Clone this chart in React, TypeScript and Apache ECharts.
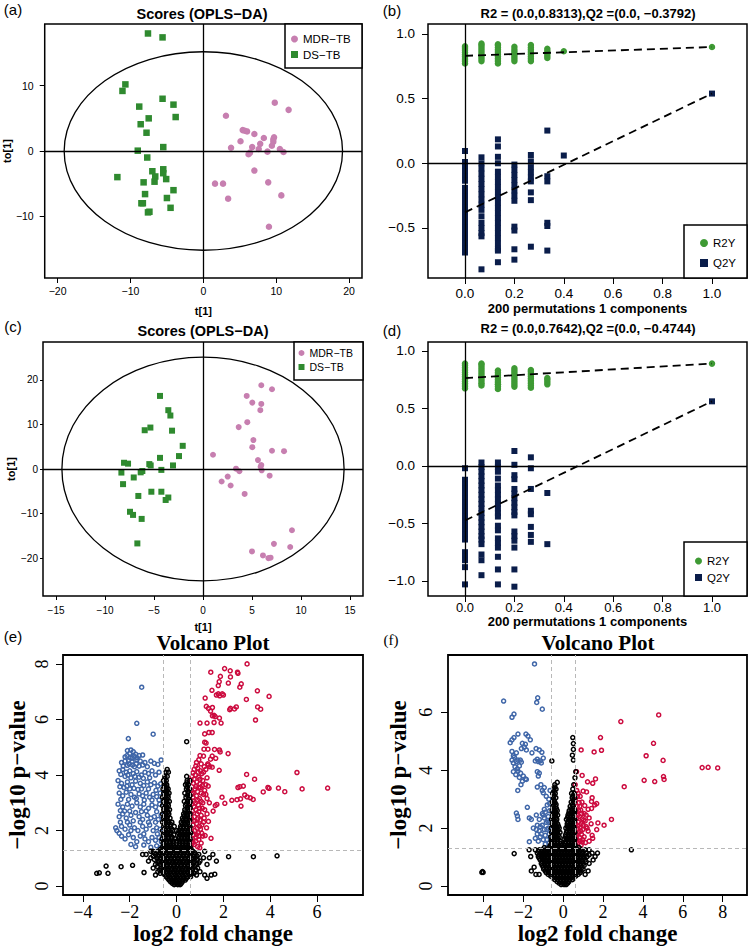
import React, { useEffect, useRef } from 'react';
import * as echarts from 'echarts';

const SANS = 'Liberation Sans, Arial, sans-serif';
const SERIF = 'Liberation Serif, Times New Roman, serif';
const M = '\u2212';

const PINK = '#c77fb0';
const DGREEN = '#2f8a2f';
const LGREEN = '#3e9a34';
const NAVY = '#0a1d4a';
const VBLUE = '#3f66a8';
const VRED = '#cc0a3e';

// ---------- Panel (a): OPLS-DA scores ----------
const aMDR = [[9.8,7.4],[11.7,6.3],[3.1,5.4],[5.4,3.2],[5.7,3.1],[6.0,3.0],[7.0,2.6],[8.3,2.0],[9.6,1.8],[9.7,2.1],[9.6,1.4],[7.8,1.1],[5.1,1.5],[6.7,0.6],[9.4,0.8],[3.8,0.5],[7.6,0.3],[10.5,0.3],[11.0,-0.15],[8.8,-0.1],[6.4,-0.25],[6.2,-0.5],[7.0,-3.0],[1.6,-5.0],[2.7,-5.0],[8.9,-4.8],[3.4,-7.3],[10.7,-6.8],[9.0,-11.6]];
const aDS = [[-7.6,18.0],[-5.6,17.4],[-10.7,10.2],[-11.1,9.2],[-5.6,8.0],[-4.1,7.1],[-8.8,6.8],[-3.8,5.2],[-7.5,5.0],[-8.6,4.1],[-7.8,2.8],[-5.5,0.6],[-9.0,0.05],[-7.7,-1.0],[-11.8,-4.0],[-7.0,-3.1],[-6.6,-3.9],[-6.7,-4.7],[-5.5,-2.8],[-5.5,-3.4],[-5.1,-4.3],[-8.2,-4.8],[-4.1,-6.0],[-8.0,-6.6],[-5.0,-7.2],[-8.5,-8.0],[-8.3,-8.0],[-4.5,-8.7],[-7.6,-9.4],[-7.4,-9.3]];
const aEllipse = [[0, 0, 19.1, 15.2]];

// ---------- Panel (c): OPLS-DA scores ----------
const cMDR = [[5.95,18.8],[7.04,17.9],[4.46,16.4],[5.03,14.9],[5.95,14.6],[5.85,13.2],[4.52,10.5],[3.64,9.4],[5.14,6.5],[5.03,4.9],[7.04,4.1],[8.27,4.0],[1.02,3.2],[5.61,2.0],[5.95,0.9],[5.88,0.5],[5.99,-0.3],[3.37,0.07],[3.71,-0.5],[6.8,-1.5],[2.52,-1.7],[1.9,-2.8],[2.82,-3.7],[4.25,-5.6],[9.08,-13.75],[7.24,-16.8],[8.9,-17.5],[5.0,-18.5],[6.12,-19.4],[6.67,-20.0],[6.9,-19.9]];
const cDS = [[-4.39,16.4],[-3.54,13.2],[-3.33,12.0],[-3.16,8.6],[-5.95,8.7],[-5.37,9.3],[-2.07,5.2],[-2.45,2.9],[-4.39,2.5],[-3.06,0.8],[-8.06,1.4],[-7.65,1.2],[-5.48,1.1],[-5.34,0.8],[-8.33,-0.8],[-6.19,-0.45],[-6.36,-0.75],[-4.25,-0.2],[-7.07,-1.9],[-8.16,-3.4],[-5.27,-5.1],[-4.25,-5.1],[-6.6,-6.05],[-3.54,-6.4],[-3.81,-6.95],[-7.45,-9.6],[-7.14,-10.3],[-6.26,-11.2],[-6.7,-16.7]];
const cEllipse = [[0, 0, 14.4, 25.1]];

// ---------- Panel (b): permutation test ----------
const bR2: [number, number[]][] = [
  [0, [0.772,0.79,0.806,0.823,0.84,0.858,0.875,0.892,0.905]],
  [0.0667, [0.79,0.808,0.826,0.843,0.86,0.878,0.895,0.912,0.925]],
  [0.1333, [0.772,0.79,0.808,0.826,0.843,0.86,0.878,0.895,0.912,0.92]],
  [0.2, [0.79,0.808,0.826,0.843,0.86,0.878,0.9]],
  [0.2667, [0.79,0.808,0.826,0.843,0.86,0.878,0.895,0.915]],
  [0.3333, [0.815,0.832,0.85,0.868,0.885]],
  [0.4, [0.866]],
  [1.0, [0.899]],
];
const bQ2: [number, number[]][] = [
  [0, [0.095,0.01,-0.025,-0.06,-0.1,-0.135,-0.19,-0.225,-0.26,-0.3,-0.34,-0.38,-0.42,-0.46,-0.5,-0.54,-0.58,-0.62,-0.66,-0.69]],
  [0.0667, [0.046,0.0,-0.04,-0.08,-0.12,-0.16,-0.2,-0.24,-0.28,-0.32,-0.36,-0.41,-0.46,-0.5,-0.54,-0.565,-0.82]],
  [0.1333, [0.185,0.13,0.05,0.0,-0.065,-0.105,-0.145,-0.185,-0.225,-0.265,-0.305,-0.345,-0.385,-0.425,-0.46,-0.5,-0.54,-0.58,-0.62,-0.66,-0.675,-0.765]],
  [0.2, [-0.01,-0.05,-0.09,-0.13,-0.17,-0.21,-0.25,-0.29,-0.49,-0.52,-0.665,-0.745]],
  [0.2667, [0.064,0.015,-0.03,-0.07,-0.11,-0.14,-0.225,-0.285,-0.645]],
  [0.3333, [0.253,-0.1,-0.14,-0.46,-0.485,-0.675]],
  [0.4, [0.06]],
  [1.0, [0.539]],
];
const bFitR2 = [[0, 0.8313], [1, 0.899]];
const bFitQ2 = [[0, -0.3792], [1, 0.539]];

// ---------- Panel (d): permutation test ----------
const dR2: [number, number[]][] = [
  [0, [0.675,0.695,0.715,0.735,0.755,0.775,0.795,0.815,0.835,0.855,0.875,0.89]],
  [0.0667, [0.7,0.72,0.74,0.76,0.78,0.8,0.82,0.84,0.86,0.88,0.89]],
  [0.1333, [0.67,0.69,0.71,0.73,0.75,0.77,0.79,0.81,0.83]],
  [0.2, [0.69,0.71,0.73,0.75,0.77,0.79,0.81,0.83,0.85]],
  [0.2667, [0.68,0.7,0.72,0.74,0.76,0.78,0.8,0.82,0.835]],
  [0.3333, [0.71,0.73,0.75,0.765]],
  [1.0, [0.89]],
];
const dQ2: [number, number[]][] = [
  [0, [-0.02,-0.12,-0.16,-0.2,-0.24,-0.28,-0.32,-0.36,-0.4,-0.44,-0.48,-0.52,-0.56,-0.6,-0.64,-0.75,-0.79,-0.82,-0.88,-1.03]],
  [0.0667, [0.03,-0.01,-0.05,-0.09,-0.13,-0.17,-0.21,-0.25,-0.29,-0.33,-0.37,-0.41,-0.45,-0.49,-0.53,-0.57,-0.61,-0.64,-0.68,-0.77,-0.82,-0.95]],
  [0.1333, [0.03,-0.01,-0.05,-0.11,-0.17,-0.21,-0.25,-0.29,-0.33,-0.37,-0.41,-0.44,-0.52,-0.56,-0.63,-0.67,-0.71,-0.79,-0.9,-1.03]],
  [0.2, [0.13,0.01,-0.08,-0.115,-0.2,-0.24,-0.28,-0.32,-0.36,-0.4,-0.43,-0.57,-0.61,-0.65,-0.71,-0.9,-1.05]],
  [0.2667, [0.075,-0.02,-0.2,-0.39,-0.42,-0.53,-0.6,-0.66]],
  [0.3333, [-0.235,-0.68]],
  [1.0, [0.562]],
];
const dFitR2 = [[0, 0.7642], [1, 0.89]];
const dFitQ2 = [[0, -0.4744], [1, 0.562]];

// ---------- Panel (e): volcano ----------
const eBlue = [
  [-1.49,7.16],[-1.70,5.86],[-1.0,5.47],[-2.06,5.31],[-0.66,4.54],
  [-2.1,4.88],[-1.95,4.9],[-1.85,4.84],[-2.0,4.78],[-1.75,4.75],[-1.6,4.7],[-1.45,4.72],[-2.2,4.65],[-1.9,4.62],
  [-2.35,4.45],[-2.2,4.5],[-2.05,4.52],[-1.9,4.47],[-1.7,4.55],[-1.55,4.5],[-1.35,4.45],[-1.1,4.5],[-0.95,4.42],[-0.8,4.38],[-2.1,4.35],[-1.8,4.3],[-1.6,4.32],[-1.25,4.3],
  [-2.45,4.15],[-2.3,4.2],[-2.15,4.1],[-2.0,4.15],[-1.85,4.05],[-1.7,4.12],[-1.5,4.0],[-1.35,4.1],[-1.2,4.05],[-1.05,4.15],[-0.9,4.0],[-0.75,4.1],[-2.2,3.95],[-1.95,3.9],[-1.6,3.92],
  [-2.5,3.8],[-2.35,3.7],[-2.1,3.75],[-1.9,3.65],[-1.75,3.78],[-1.55,3.7],[-1.4,3.62],[-1.25,3.75],[-1.1,3.65],[-0.95,3.72],[-0.8,3.6],[-0.68,3.68],[-2.25,3.55],[-2.0,3.5],[-1.65,3.48],
  [-2.45,3.35],[-2.3,3.25],[-2.15,3.38],[-1.95,3.3],[-1.8,3.2],[-1.6,3.32],[-1.45,3.25],[-1.3,3.35],[-1.15,3.2],[-1.0,3.3],[-0.85,3.22],[-0.7,3.35],
  [-2.5,2.95],[-2.3,2.85],[-2.1,2.95],[-1.9,2.88],[-1.7,3.0],[-1.55,2.85],[-1.4,2.95],[-1.2,2.8],[-1.05,2.92],[-0.9,2.85],[-0.72,2.95],[-2.0,2.7],[-1.75,2.65],
  [-2.45,2.5],[-2.3,2.6],[-2.15,2.45],[-1.95,2.55],[-1.6,2.5],[-1.45,2.4],[-1.25,2.55],[-1.1,2.45],[-0.95,2.5],[-0.78,2.4],[-0.66,2.55],[-2.4,2.3],
  [-2.6,2.1],[-2.55,2.0],[-2.35,2.15],[-2.2,2.05],[-2.0,2.2],[-1.8,2.1],[-1.65,2.0],[-1.45,2.15],[-1.3,2.05],[-1.15,2.2],[-1.0,2.0],[-0.85,2.1],[-0.7,2.05],
  [-2.35,1.8],[-2.2,1.7],[-2.05,1.85],[-1.85,1.75],[-1.7,1.6],[-1.55,1.8],[-1.35,1.7],[-1.2,1.6],[-1.05,1.75],[-0.9,1.65],[-0.75,1.75],[-0.65,1.6],
  [-1.95,1.5],[-1.75,1.42],[-1.4,1.48],[-1.1,1.4],[-0.85,1.45],[-0.7,1.38],
  [-2.12,4.7],[-1.98,4.62],[-1.82,4.68],[-1.68,4.62],[-2.28,4.32],[-2.02,4.4],[-1.88,4.36],[-1.72,4.4],[-1.45,4.36],[-2.38,4.02],[-2.08,4.0],[-1.78,3.95],[-1.42,3.88],[-1.15,3.9],[-2.42,3.58],[-2.12,3.6],[-1.82,3.52],[-1.5,3.5],[-1.2,3.5],[-0.88,3.45],[-2.38,3.12],[-2.05,3.12],[-1.72,3.15],[-1.38,3.1],[-1.05,3.1],[-0.75,3.1],[-2.4,2.72],[-2.22,2.7],[-1.5,2.68],[-1.3,2.7],[-0.85,2.68],[-2.1,2.3],[-1.85,2.35],[-1.55,2.3],[-1.2,2.3],[-0.9,2.3],[-2.45,1.9],[-1.95,2.0],[-1.4,1.88],[-0.82,1.88],
];
const eRed = [
  [0.62,1.45],[0.75,1.5],[0.9,1.42],[1.05,1.55],[0.68,1.7],[0.82,1.75],[0.95,1.68],[1.12,1.8],[0.65,1.95],[0.78,2.0],[0.92,1.92],[1.02,2.05],[0.7,2.2],[0.85,2.25],[0.98,2.15],[1.15,2.3],[0.63,2.45],[0.76,2.5],[0.9,2.42],[1.05,2.55],[0.68,2.7],[0.82,2.75],[0.95,2.68],[1.1,2.8],[0.65,2.95],[0.8,3.0],[0.93,2.92],[1.05,3.05],[0.7,3.2],[0.85,3.25],[0.98,3.15],[1.15,3.3],[0.63,3.45],[0.78,3.5],[0.9,3.4],[1.02,3.55],[1.2,3.45],[0.72,3.7],[0.86,3.75],[1.0,3.68],[1.12,3.8],[0.66,3.95],[0.8,4.0],[0.95,3.92],[1.08,4.05],[0.75,4.2],[0.9,4.25],[1.02,4.15],[1.18,4.3],[0.85,4.45],
  [1.3,3.9],[1.35,3.6],[1.25,3.3],[1.4,3.0],[1.3,2.6],[1.28,2.1],[1.36,2.33],[1.22,1.82],[1.47,1.72],[0.99,1.38],[1.56,2.7],[1.65,2.9],[1.72,2.94],[1.94,3.2],[2.06,2.98],[1.35,4.36],[1.45,4.57],
  [3.01,8.0],[2.05,7.83],[2.29,7.75],[2.6,7.7],[2.62,7.66],[1.46,7.7],[1.87,7.55],[2.3,7.53],[1.82,7.36],[2.76,7.28],[2.21,7.31],[1.78,7.22],[2.7,7.16],[1.51,7.05],[3.45,7.03],[1.7,6.88],[1.78,6.92],[1.95,6.92],[1.84,6.85],[2.0,6.88],[3.95,6.83],[2.98,6.72],[1.22,6.77],
  [1.27,6.47],[1.36,6.4],[1.53,6.43],[1.45,6.3],[1.6,6.15],[1.65,6.1],[1.53,6.13],[1.83,6.05],[2.3,6.4],[2.47,6.38],[2.55,6.45],[2.27,6.35],[3.46,6.45],[3.59,6.37],[3.37,5.98],
  [1.0,5.87],[1.3,5.87],[1.6,5.89],[1.9,5.87],[1.2,5.48],[1.38,5.53],[1.52,5.53],[1.2,5.18],[1.26,5.15],[1.17,4.93],[1.34,4.93],[1.62,4.92],[1.83,4.9],[1.86,4.83],[2.2,4.77],[1.0,4.7],[1.15,4.68],[1.52,4.68],[1.67,4.6],[1.33,4.4],[1.42,4.3],[1.52,4.28],[1.82,4.17],
  [5.14,4.09],[2.99,4.02],[3.33,3.85],[2.7,3.58],[2.85,3.6],[2.62,3.55],[3.9,3.55],[3.95,3.52],[4.35,3.53],[4.62,3.4],[5.36,3.5],[6.45,3.53],[3.7,3.39],
  [2.36,3.09],[2.58,3.11],[2.73,3.14],[2.91,3.28],[3.01,3.21],[3.15,3.18],[3.27,3.12],[2.75,2.88],
  [0.7,1.6],[0.85,1.85],[0.72,2.35],[0.88,2.6],[0.74,2.85],[0.9,3.1],[0.7,3.35],[0.95,3.55],[0.75,3.85],[0.92,4.1],
  [0.68,1.55],[0.82,1.62],[0.95,1.8],[0.72,1.85],[1.08,1.9],[0.62,2.08],[0.88,2.08],[1.08,2.2],[0.78,2.35],[1.0,2.38],[0.62,2.6],[0.98,2.8],[0.72,3.05],[1.12,3.0],[0.65,3.3],[1.05,3.35],[0.82,3.58],[1.1,3.62],[0.62,3.8],[1.0,3.85],[0.7,4.08],[1.15,4.1],[0.82,4.32],[1.05,4.4],[0.95,4.55],[1.25,4.2],[1.25,3.65],[1.3,3.15],[1.2,2.75],[1.18,2.45],
];
const eBlackCore: [number, number[]][] = [
  [0.05, [-0.1,0.05,0.15]],
  [0.1, [-0.18,-0.05,0.08,0.2]],
  [0.15, [-0.25,-0.12,0.0,0.12,0.24]],
  [0.22, [-0.32,-0.18,-0.03,0.11,0.25,0.37]],
  [0.28, [-0.38,-0.25,-0.1,0.05,0.18,0.32,0.42,1.3]],
  [0.34, [-0.45,-0.3,-0.15,0.0,0.14,0.28,0.45,0.6]],
  [0.4, [-0.9,-0.5,-0.35,-0.2,-0.05,0.1,0.25,0.4,0.55,0.85,1.2,1.48]],
  [0.46, [-0.7,-0.55,-0.4,-0.25,-0.1,0.05,0.2,0.35,0.5,0.65,0.75]],
  [0.52, [-0.8,-0.6,-0.45,-0.3,-0.15,0.0,0.15,0.3,0.45,0.6,1.0]],
  [0.58, [-0.72,-0.52,-0.38,-0.22,-0.08,0.08,0.22,0.38,0.52,0.68,0.82]],
  [0.65, [-1.0,-0.65,-0.5,-0.35,-0.2,-0.05,0.1,0.25,0.4,0.55,0.7,0.9]],
  [0.71, [-0.82,-0.58,-0.42,-0.28,-0.12,0.02,0.18,0.32,0.48,0.62,0.78]],
  [0.78, [-0.9,-0.7,-0.55,-0.4,-0.25,-0.1,0.05,0.2,0.35,0.5,0.65,0.85,1.3]],
  [0.84, [-0.8,-0.62,-0.48,-0.32,-0.18,-0.02,0.12,0.28,0.42,0.58,0.72,0.95]],
  [0.9, [-1.2,-0.75,-0.6,-0.45,-0.3,-0.15,0.0,0.15,0.3,0.45,0.6,0.75,1.0,1.7]],
  [0.96, [-0.95,-0.68,-0.52,-0.38,-0.22,-0.08,0.08,0.22,0.38,0.52,0.68,0.88]],
  [1.02, [-1.1,-0.85,-0.7,-0.55,-0.4,-0.25,-0.1,0.05,0.2,0.35,0.5,0.65,0.8,1.15,1.4]],
  [1.08, [-1.0,-0.78,-0.62,-0.48,-0.32,-0.18,-0.02,0.12,0.28,0.42,0.58,0.72,0.88]],
  [1.14, [-1.45,-1.3,-0.9,-0.75,-0.6,-0.45,-0.3,-0.15,0.0,0.15,0.3,0.45,0.6,0.75,0.95,1.55]],
  [1.2, [-0.95,-0.72,-0.58,-0.42,-0.28,-0.12,0.02,0.18,0.32,0.48,0.62,0.78]],
  [1.25, [-1.1,-1.0,-0.8,-0.65,-0.5,-0.35,-0.2,-0.05,0.1,0.25,0.4,0.55,0.7,1.2]],
];
const eBlackArms: [number, number[]][] = [
  [1.33, [-0.68,-0.54,-0.4,-0.26,-0.12,0.0,0.12,0.26,0.4,0.52,0.62]],
  [1.4, [-0.6,-0.47,-0.33,-0.2,-0.05,0.05,0.2,0.33,0.47,0.58]],
  [1.47, [-0.52,-0.4,-0.26,-0.12,0.12,0.26,0.4,0.52]],
  [1.55, [-0.58,-0.45,-0.3,-0.15,0.12,0.26,0.4,0.54]],
  [1.62, [-0.55,-0.42,-0.28,-0.12,0.02,0.14,0.27,0.4,0.53]],
  [1.7, [-0.62,-0.5,-0.36,-0.22,-0.05,0.08,0.2,0.33,0.47,0.58]],
  [1.77, [-0.5,-0.36,-0.2,0.1,0.22,0.36,0.5]],
  [1.85, [-0.57,-0.43,-0.28,-0.12,0.15,0.28,0.42,0.55]],
  [1.92, [-0.52,-0.38,-0.24,0.08,0.22,0.35,0.48,0.6]],
  [2.0, [-0.6,-0.46,-0.32,-0.18,0.0,0.1,0.22,0.36,0.5]],
  [2.07, [-0.5,-0.36,-0.22,0.16,0.28,0.42,0.55]],
  [2.15, [-0.55,-0.41,-0.27,-0.1,0.17,0.3,0.44,0.57]],
  [2.22, [-0.52,-0.38,-0.25,0.24,0.38,0.52]],
  [2.3, [-0.6,-0.47,-0.33,-0.2,0.2,0.33,0.47]],
  [2.37, [-0.52,-0.38,0.27,0.4,0.56]],
  [2.45, [-0.56,-0.42,-0.28,0.25,0.4,0.54]],
  [2.52, [-0.52,-0.38,0.32,0.47]],
  [2.6, [-0.6,-0.46,-0.33,0.3,0.44,0.57]],
  [2.67, [-0.5,-0.37,0.36,0.52]],
  [2.75, [-0.55,-0.42,-0.3,0.35,0.5]],
  [2.82, [-0.52,-0.4,0.45,0.58]],
  [2.9, [-0.6,-0.47,-0.35,0.38,0.53]],
  [2.97, [-0.5,-0.38,0.42,0.55]],
  [3.05, [-0.56,-0.43,-0.31,0.33,0.47,0.58]],
  [3.12, [-0.52,-0.4,0.52]],
  [3.2, [-0.6,-0.48,-0.36,0.4,0.53]],
  [3.27, [-0.5,-0.38,0.46,0.57]],
  [3.35, [-0.55,-0.43,-0.32,0.35,0.5]],
  [3.42, [-0.5,-0.4,0.48]],
  [3.5, [-0.58,-0.47,-0.36,0.42,0.55]],
  [3.57, [-0.52,-0.42,0.46]],
  [3.65, [-0.53,-0.42,0.38,0.5]],
  [3.72, [-0.48,0.44]],
  [3.8, [-0.56,-0.44,0.45,0.56]],
  [3.87, [-0.5]],
  [3.95, [-0.5,-0.4,0.43]],
  [4.1, [-0.45,-0.35]],
  [4.2, [-0.4]],
];
const eBlackOut = [[-3.41,0.46],[-3.3,0.48],[-3.01,0.72],[-2.93,0.46],[-2.37,0.7],[-1.88,0.75],[-1.39,0.49],[2.22,1.06],[3.28,1.06],[4.29,1.09],[1.63,0.43],[0.43,5.2]];

// ---------- Panel (f): volcano ----------
const fBlue = [
  [-1.44,7.67],[-2.99,6.39],[-1.28,6.5],[-1.33,6.34],[-1.05,6.11],[-2.47,5.94],[-2.57,5.83],
  [-2.66,4.95],[-2.57,5.05],[-2.47,5.13],[-2.27,5.25],[-1.87,5.25],[-1.77,5.18],[-1.65,5.05],[-2.05,4.93],
  [-2.1,4.75],[-1.95,4.8],[-1.85,4.7],[-1.9,4.9],[-1.57,4.6],[-1.36,4.75],[-1.2,4.7],[-1.07,4.62],
  [-2.57,4.65],[-2.5,4.5],[-2.57,4.35],[-2.5,4.25],[-2.35,4.3],[-2.42,4.12],[-2.3,4.05],[-2.27,4.35],[-2.15,4.35],[-2.1,4.28],
  [-2.5,3.95],[-2.27,3.97],[-2.14,3.9],[-2.2,3.75],[-2.0,3.8],[-1.9,3.7],[-1.85,3.68],[-2.12,3.5],[-2.28,3.3],
  [-1.3,4.38],[-1.15,4.32],[-1.0,4.42],[-1.25,4.3],[-1.4,4.32],[-1.1,4.25],[-1.3,3.95],[-1.2,3.9],[-1.25,3.8],
  [-1.3,3.42],[-1.12,3.5],[-1.05,3.3],[-0.95,3.4],[-1.0,3.22],
  [-1.8,2.72],[-1.7,2.35],[-1.6,2.3],[-2.35,2.52],[-2.3,2.42],[-2.27,2.3],[-1.7,1.53],
  [-1.5,2.0],[-1.35,1.95],[-1.3,1.8],[-1.15,1.7],[-1.0,1.6],[-1.1,1.8],[-0.95,1.95],[-1.2,2.3],[-1.05,2.5],[-0.95,2.65],[-1.0,2.45],[-0.85,2.2],[-0.75,2.0],[-0.7,1.8],[-0.8,1.6],[-0.9,1.45],[-0.7,1.5],[-1.25,1.55],[-1.4,1.65],[-0.75,2.4],[-0.68,2.6],[-0.8,2.8],[-0.72,3.0],[-0.85,3.1],[-0.66,3.3],[-0.78,2.25],[-1.3,2.1],[-0.9,1.75],[-1.15,2.05],[-0.65,1.65],
  [-2.45,4.45],[-2.35,4.6],[-2.2,4.15],[-2.38,3.85],[-2.05,3.62],[-1.05,2.1],[-0.9,2.55],[-1.2,1.9],[-0.82,1.95],[-0.95,2.35],[-1.35,2.45],[-0.72,2.2],[-0.68,2.85],
];
const fRed = [
  [4.79,5.91],[2.89,5.68],[1.87,5.13],[0.9,4.7],[1.55,4.63],[1.92,4.69],[4.53,4.93],[4.16,4.5],[5.01,4.34],[6.97,4.09],[7.27,4.1],[7.75,4.08],[4.06,3.65],[4.59,3.61],[5.03,3.78],[5.06,3.68],[3.06,3.43],
  [0.67,3.95],[0.95,3.82],[1.22,3.6],[1.48,3.55],[1.62,3.7],[0.6,3.5],[0.75,3.2],[1.0,3.28],[1.17,3.25],
  [1.45,3.05],[1.42,2.92],[1.58,2.8],[1.68,2.85],[0.94,2.9],[1.08,2.78],[1.25,2.65],[1.42,2.68],[0.83,2.75],
  [2.42,2.3],[2.05,2.1],[1.74,2.18],[1.68,1.95],[1.45,1.75],[1.48,1.65],[1.25,1.9],[1.0,2.1],[1.4,2.15],
  [0.62,1.45],[0.75,1.5],[0.9,1.42],[0.68,1.62],[0.82,1.68],[0.98,1.6],[0.65,1.8],[0.78,1.85],[0.92,1.78],[1.05,1.7],[0.7,2.0],[0.85,2.02],[0.98,1.95],[0.63,2.15],[0.76,2.2],[0.9,2.15],[1.1,2.25],[0.68,2.35],[0.82,2.4],[0.95,2.32],[0.65,2.55],[0.78,2.6],[0.92,2.5],[1.15,2.45],[0.7,2.75],[0.62,2.95],[0.72,3.1],[1.2,2.0],[1.3,1.55],[1.12,1.5],[0.85,1.55],
  [0.7,1.75],[0.88,1.9],[0.75,2.08],[1.02,2.28],[0.72,2.45],[0.88,2.62],[1.05,2.5],[0.8,2.88],[0.68,3.3],[0.85,3.1],[1.3,2.35],[1.15,2.05],[0.95,1.52],[0.62,1.65],
];
const fBlackCore: [number, number[]][] = [
  [0.05, [-0.1,0.05,0.15]],
  [0.1, [-0.2,-0.05,0.1,0.22]],
  [0.15, [-0.3,-0.15,0.0,0.15,0.28]],
  [0.22, [-0.42,-0.28,-0.12,0.02,0.18,0.32,0.46]],
  [0.28, [-0.5,-0.35,-0.2,-0.05,0.1,0.25,0.4,0.52]],
  [0.34, [-0.62,-0.45,-0.28,-0.12,0.02,0.18,0.32,0.48,0.62]],
  [0.4, [-1.37,-1.21,-0.75,-0.6,-0.45,-0.3,-0.15,0.0,0.15,0.3,0.45,0.6,0.75,1.1]],
  [0.46, [-0.85,-0.68,-0.52,-0.38,-0.22,-0.08,0.08,0.22,0.38,0.52,0.68,0.85]],
  [0.52, [-1.6,-0.9,-0.75,-0.6,-0.45,-0.3,-0.15,0.0,0.15,0.3,0.45,0.6,0.75,0.9,1.25]],
  [0.58, [-0.98,-0.82,-0.68,-0.52,-0.38,-0.22,-0.08,0.08,0.22,0.38,0.52,0.68,0.82,1.0]],
  [0.65, [-1.46,-1.0,-0.85,-0.7,-0.55,-0.4,-0.25,-0.1,0.05,0.2,0.35,0.5,0.65,0.8,0.95]],
  [0.71, [-1.05,-0.92,-0.78,-0.62,-0.48,-0.32,-0.18,-0.02,0.12,0.28,0.42,0.58,0.72,0.88,1.05]],
  [0.78, [-1.1,-0.95,-0.8,-0.65,-0.5,-0.35,-0.2,-0.05,0.1,0.25,0.4,0.55,0.7,0.85,1.0,1.3]],
  [0.84, [-1.05,-0.88,-0.72,-0.58,-0.42,-0.28,-0.12,0.02,0.18,0.32,0.48,0.62,0.78,0.92,1.15]],
  [0.9, [-1.15,-1.0,-0.85,-0.7,-0.55,-0.4,-0.25,-0.1,0.05,0.2,0.35,0.5,0.65,0.8,0.95,1.1,1.5]],
  [0.96, [-1.2,-1.05,-0.92,-0.78,-0.62,-0.48,-0.32,-0.18,-0.02,0.12,0.28,0.42,0.58,0.72,0.88,1.05]],
  [1.02, [-1.63,-1.25,-1.1,-0.95,-0.8,-0.65,-0.5,-0.35,-0.2,-0.05,0.1,0.25,0.4,0.55,0.7,0.85,1.0,1.2,1.6]],
  [1.08, [-1.2,-1.02,-0.88,-0.72,-0.58,-0.42,-0.28,-0.12,0.02,0.18,0.32,0.48,0.62,0.78,0.92,1.08,1.3]],
  [1.14, [-1.3,-1.15,-1.0,-0.85,-0.7,-0.55,-0.4,-0.25,-0.1,0.05,0.2,0.35,0.5,0.65,0.8,0.95,1.15,1.45,1.72]],
  [1.2, [-1.25,-1.1,-0.95,-0.82,-0.68,-0.52,-0.38,-0.22,-0.08,0.08,0.22,0.38,0.52,0.68,0.82,1.0]],
  [1.25, [-1.71,-1.4,-1.2,-1.05,-0.9,-0.75,-0.6,-0.45,-0.3,-0.15,0.0,0.15,0.3,0.45,0.6,0.75,0.9,1.1,1.3]],
];
const fBlackArms: [number, number[]][] = [
  [1.33, [-0.95,-0.72,-0.58,-0.42,-0.28,-0.12,0.02,0.12,0.26,0.4,0.52,0.62,0.8]],
  [1.4, [-0.65,-0.5,-0.36,-0.22,-0.08,0.05,0.2,0.34,0.48,0.6]],
  [1.47, [-0.58,-0.44,-0.28,-0.14,0.12,0.27,0.4,0.54]],
  [1.55, [-0.6,-0.45,-0.3,-0.15,0.12,0.27,0.42,0.55]],
  [1.62, [-0.55,-0.4,-0.26,0.04,0.17,0.31,0.45,0.58]],
  [1.7, [-0.62,-0.48,-0.34,-0.2,0.1,0.24,0.38,0.52]],
  [1.77, [-0.52,-0.38,-0.24,0.12,0.26,0.4,0.53]],
  [1.85, [-0.58,-0.44,-0.3,-0.16,0.16,0.3,0.45,0.58]],
  [1.92, [-0.52,-0.38,-0.25,0.2,0.34,0.5]],
  [2.0, [-0.6,-0.46,-0.33,-0.2,0.13,0.27,0.41,0.55]],
  [2.07, [-0.5,-0.36,-0.24,0.2,0.34,0.52]],
  [2.15, [-0.55,-0.42,-0.28,0.2,0.34,0.48]],
  [2.22, [-0.5,-0.36,0.24,0.4,0.55]],
  [2.3, [-0.58,-0.45,-0.32,0.16,0.3,0.44,0.58]],
  [2.37, [-0.5,-0.36,0.22,0.36,0.5]],
  [2.45, [-0.53,-0.4,-0.28,0.24,0.38,0.52]],
  [2.52, [-0.48,-0.35,0.28,0.42,0.56]],
  [2.6, [-0.56,-0.43,-0.3,0.3,0.45,0.58]],
  [2.67, [-0.48,-0.34,0.4,0.54]],
  [2.75, [-0.52,-0.38,0.35,0.5]],
  [2.82, [-0.48,-0.36,0.46]],
  [2.9, [-0.55,-0.42,0.4,0.55]],
  [2.97, [-0.46,0.5]],
  [3.05, [-0.5,-0.37,0.45,0.58]],
  [3.12, [-0.46,0.5]],
  [3.2, [-0.53,-0.4,0.42,0.55]],
  [3.27, [-0.44]],
  [3.35, [-0.48,-0.36,0.48]],
  [3.42, [-0.42]],
  [3.5, [-0.42,0.53]],
  [3.58, [-0.3]],
  [3.74, [0.59]],
  [3.95, [0.63]],
  [4.32, [-0.57]],
  [4.35, [0.51]],
  [4.52, [0.46]],
  [4.72, [0.51]],
  [4.92, [0.51]],
  [5.13, [0.48]],
];
const fBlackOut = [[-4.08,0.47],[-4.02,0.47],[-4.05,0.5],[-2.46,1.12],[3.42,1.25]];

// ---------- tick values ----------
const aXTicks = [-20, -10, 0, 10, 20];
const aYTicks = [-10, 0, 10];
const cXTicks = [-15, -10, -5, 0, 5, 10, 15];
const cYTicks = [-20, -10, 0, 10, 20];
const pXTicks = [0, 0.2, 0.4, 0.6, 0.8, 1.0];
const bYTicks = [-0.5, 0, 0.5, 1.0];
const dYTicks = [-1.0, -0.5, 0, 0.5, 1.0];
const eXTicks = [-4, -2, 0, 2, 4, 6];
const eYTicks = [0, 2, 4, 6, 8];
const fXTicks = [-4, -2, 0, 2, 4, 6, 8];
const fYTicks = [0, 2, 4, 6];

const cols = (c: [number, number[]][]) => c.flatMap(([x, ys]) => ys.map((y) => [x, y]));
const rows = (r: [number, number[]][]) => r.flatMap(([y, xs]) => xs.map((x) => [x, y]));

function axis(o: any) {
  return {
    type: 'value',
    gridIndex: o.grid,
    min: o.min,
    max: o.max,
    axisLine: { show: false, onZero: false },
    splitLine: { show: false },
    axisTick: { show: true, inside: false, length: o.tick, lineStyle: { color: '#000', width: 1 }, customValues: o.ticks },
    axisLabel: {
      show: true,
      customValues: o.ticks,
      color: '#000',
      fontFamily: o.font,
      fontSize: o.size,
      margin: o.margin,
      rotate: o.rotate || 0,
      formatter: (v: number) => (o.dec > 0 ? v.toFixed(o.dec) : String(Math.round(v))).replace('-', M),
    },
    name: o.name || '',
    nameLocation: 'middle',
    nameGap: o.nameGap || 0,
    nameTextStyle: { fontFamily: o.font, fontWeight: 'bold', fontSize: o.nameSize || 11, color: '#000' },
  };
}

const zeroLines = {
  silent: true,
  symbol: ['none', 'none'],
  label: { show: false },
  lineStyle: { color: '#000', type: 'solid', width: 1.3 },
  data: [{ xAxis: 0 }, { yAxis: 0 }],
};
const volcLines = {
  silent: true,
  symbol: ['none', 'none'],
  label: { show: false },
  lineStyle: { color: '#b8b8b8', type: [4, 3], width: 1 },
  data: [{ xAxis: -0.585 }, { xAxis: 0.585 }, { yAxis: 1.301 }],
};

const ellipseRender = (params: any, api: any) => {
  const c = api.coord([api.value(0), api.value(1)]);
  const s = api.size([api.value(2), api.value(3)]);
  return {
    type: 'ellipse',
    shape: { cx: c[0], cy: c[1], rx: s[0], ry: s[1] },
    style: { fill: 'none', stroke: '#000', lineWidth: 1.3 },
  };
};

function solid(name: string, data: any[], gi: number, symbol: string, size: number, color: string, extra: any = {}) {
  return { type: 'scatter', name, data, xAxisIndex: gi, yAxisIndex: gi, symbol, symbolSize: size, itemStyle: { color, opacity: 1 }, silent: true, ...extra };
}
function hollow(name: string, data: any[], gi: number, color: string, extra: any = {}) {
  return {
    type: 'scatter', name, data, xAxisIndex: gi, yAxisIndex: gi, symbol: 'circle', symbolSize: 4, silent: true,
    itemStyle: { color: 'rgba(0,0,0,0)', borderColor: color, borderWidth: 1.5, opacity: 1 }, ...extra,
  };
}
function fit(name: string, data: any[], gi: number) {
  return {
    type: 'line', name, data, xAxisIndex: gi, yAxisIndex: gi, symbol: 'none', silent: true, z: 3,
    lineStyle: { color: '#000', width: 1.8, type: [8, 5] },
  };
}

function txt(text: string, x: number, y: number, size: number, family: string, weight = 'normal') {
  return {
    type: 'text', x, y, z: 10, silent: true,
    style: { text, fontSize: size, fontFamily: family, fontWeight: weight, fill: '#000', align: 'center', verticalAlign: 'middle' },
  };
}
function box(x: number, y: number, w: number, h: number) {
  return { type: 'rect', z: 3, silent: true, shape: { x, y, width: w, height: h }, style: { fill: '#fff', stroke: '#000', lineWidth: 1.5 } };
}

function buildOption() {
  const gridBase = { show: true, borderColor: '#000', backgroundColor: 'transparent', containLabel: false };
  return {
    animation: false,
    backgroundColor: '#fff',
    textStyle: { fontFamily: SANS },
    grid: [
      { ...gridBase, left: 42, top: 24, width: 320, height: 254, borderWidth: 1.5 },
      { ...gridBase, left: 428, top: 24, width: 319, height: 254, borderWidth: 1.5 },
      { ...gridBase, left: 43, top: 342, width: 320, height: 254, borderWidth: 1.5 },
      { ...gridBase, left: 428, top: 342, width: 319, height: 254, borderWidth: 1.5 },
      { ...gridBase, left: 63, top: 655, width: 300, height: 240, borderWidth: 1.8 },
      { ...gridBase, left: 448, top: 655, width: 299, height: 240, borderWidth: 1.8 },
    ],
    xAxis: [
      axis({ grid: 0, min: -21.77, max: 21.77, ticks: aXTicks, dec: 0, font: SANS, size: 10.5, margin: 7, tick: 5, name: 't[1]', nameSize: 11, nameGap: 27 }),
      axis({ grid: 1, min: -0.1498, max: 1.1417, ticks: pXTicks, dec: 1, font: SANS, size: 13.5, margin: 8, tick: 6, name: '200 permutations 1 components', nameSize: 13, nameGap: 24 }),
      axis({ grid: 2, min: -16.33, max: 16.33, ticks: cXTicks, dec: 0, font: SANS, size: 10, margin: 9, tick: 4, name: 't[1]', nameSize: 11, nameGap: 25 }),
      axis({ grid: 3, min: -0.1498, max: 1.1417, ticks: pXTicks, dec: 1, font: SANS, size: 13, margin: 5, tick: 6, name: '200 permutations 1 components', nameSize: 13, nameGap: 18 }),
      axis({ grid: 4, min: -4.85, max: 7.96, ticks: eXTicks, dec: 0, font: SERIF, size: 18, margin: 8, tick: 7, name: 'log2 fold change', nameSize: 23, nameGap: 27 }),
      axis({ grid: 5, min: -5.78, max: 9.22, ticks: fXTicks, dec: 0, font: SERIF, size: 18, margin: 8, tick: 7, name: 'log2 fold change', nameSize: 23, nameGap: 27 }),
    ],
    yAxis: [
      axis({ grid: 0, min: -19.45, max: 19.45, ticks: aYTicks, dec: 0, font: SANS, size: 10.5, margin: 11, tick: 5, name: 'to[1]', nameSize: 11, nameGap: 25 }),
      axis({ grid: 1, min: -0.887, max: 1.077, ticks: bYTicks, dec: 1, font: SANS, size: 13.5, margin: 13, tick: 6 }),
      axis({ grid: 2, min: -28.5, max: 28.5, ticks: cYTicks, dec: 0, font: SANS, size: 10, margin: 5, tick: 3, name: 'to[1]', nameSize: 11, nameGap: 27 }),
      axis({ grid: 3, min: -1.131, max: 1.078, ticks: dYTicks, dec: 1, font: SANS, size: 13.5, margin: 13, tick: 6 }),
      axis({ grid: 4, min: -0.32, max: 8.32, ticks: eYTicks, dec: 0, font: SERIF, size: 18, margin: 12, tick: 7, rotate: 90, name: M + 'log10 p' + M + 'value', nameSize: 23, nameGap: 34 }),
      axis({ grid: 5, min: -0.31, max: 7.98, ticks: fYTicks, dec: 0, font: SERIF, size: 18, margin: 13, tick: 7, rotate: 90, name: M + 'log10 p' + M + 'value', nameSize: 23, nameGap: 38 }),
    ],
    legend: [
      { left: 291, top: 33, orient: 'vertical', itemWidth: 7, itemHeight: 7, itemGap: 3.5, padding: 0, selectedMode: false,
        textStyle: { fontFamily: SANS, fontSize: 11.5, color: '#000' }, data: [{ name: 'MDR' + M + 'TB', icon: 'circle' }, { name: 'DS' + M + 'TB', icon: 'rect' }] },
      { left: 700, top: 237, orient: 'vertical', itemWidth: 8, itemHeight: 8, itemGap: 8, padding: 0, selectedMode: false,
        textStyle: { fontFamily: SANS, fontSize: 11.5, color: '#000' }, data: [{ name: 'R2Y', icon: 'circle' }, { name: 'Q2Y', icon: 'rect' }] },
      { left: 298.5, top: 347.5, orient: 'vertical', itemWidth: 6, itemHeight: 6, itemGap: 3, padding: 0, selectedMode: false,
        textStyle: { fontFamily: SANS, fontSize: 10.5, color: '#000' }, data: [{ name: 'MDR' + M + 'TB', icon: 'circle' }, { name: 'DS' + M + 'TB', icon: 'rect' }] },
      { left: 695, top: 555, orient: 'vertical', itemWidth: 7, itemHeight: 7, itemGap: 4.5, padding: 0, selectedMode: false,
        textStyle: { fontFamily: SANS, fontSize: 11.5, color: '#000' }, data: [{ name: 'R2Y', icon: 'circle' }, { name: 'Q2Y', icon: 'rect' }] },
    ],
    graphic: [
      box(285, 24, 77, 44),
      box(684, 225, 63, 53),
      box(294, 342, 69, 38),
      box(684, 542, 63, 54),
      txt('(a)', 13, 9.5, 15, SANS),
      txt('Scores (OPLS' + M + 'DA)', 202, 13.5, 14.5, SANS, 'bold'),
      txt('(b)', 392, 10, 15, SANS),
      txt('R2 = (0.0,0.8313),Q2 =(0.0, ' + M + '0.3792)', 588, 13.5, 13, SANS, 'bold'),
      txt('(c)', 13, 326, 15, SANS),
      txt('Scores (OPLS' + M + 'DA)', 203, 331, 14.5, SANS, 'bold'),
      txt('(d)', 392, 330, 15, SANS),
      txt('R2 = (0.0,0.7642),Q2 =(0.0, ' + M + '0.4744)', 588, 328, 13, SANS, 'bold'),
      txt('(e)', 13, 636, 15, SANS),
      txt('Volcano Plot', 213, 643, 21, SERIF, 'bold'),
      txt('(f)', 391, 639.5, 15, SERIF),
      txt('Volcano Plot', 598, 643, 21, SERIF, 'bold'),
    ],
    series: [
      // (a)
      { type: 'custom', name: 'ellipseA', xAxisIndex: 0, yAxisIndex: 0, data: aEllipse, renderItem: ellipseRender, silent: true, z: 1 },
      solid('MDR' + M + 'TB', aMDR, 0, 'circle', 6.5, PINK, { markLine: zeroLines }),
      solid('DS' + M + 'TB', aDS, 0, 'rect', 6.5, DGREEN),
      // (b)
      solid('R2Y', cols(bR2), 1, 'circle', 6.5, LGREEN),
      solid('Q2Y', cols(bQ2), 1, 'rect', 6, NAVY, { markLine: zeroLines }),
      fit('r2fitB', bFitR2, 1),
      fit('q2fitB', bFitQ2, 1),
      // (c)
      { type: 'custom', name: 'ellipseC', xAxisIndex: 2, yAxisIndex: 2, data: cEllipse, renderItem: ellipseRender, silent: true, z: 1 },
      solid('MDR' + M + 'TB', cMDR, 2, 'circle', 6, PINK, { markLine: zeroLines }),
      solid('DS' + M + 'TB', cDS, 2, 'rect', 6, DGREEN),
      // (d)
      solid('R2Y', cols(dR2), 3, 'circle', 6.5, LGREEN),
      solid('Q2Y', cols(dQ2), 3, 'rect', 6, NAVY, { markLine: zeroLines }),
      fit('r2fitD', dFitR2, 3),
      fit('q2fitD', dFitQ2, 3),
      // (e)
      hollow('upE', eRed, 4, VRED),
      hollow('downE', eBlue, 4, VBLUE),
      hollow('nsE', [...rows(eBlackCore), ...rows(eBlackArms), ...eBlackOut], 4, '#000', { markLine: volcLines }),
      // (f)
      hollow('upF', fRed, 5, VRED),
      hollow('downF', fBlue, 5, VBLUE),
      hollow('nsF', [...rows(fBlackCore), ...rows(fBlackArms), ...fBlackOut], 5, '#000', { markLine: volcLines }),
    ],
  };
}

export default function App() {
  const ref = useRef<HTMLDivElement>(null);
  useEffect(() => {
    if (!ref.current) return;
    const chart = echarts.init(ref.current, null, { renderer: 'svg' });
    chart.setOption(buildOption() as any);
    return () => chart.dispose();
  }, []);
  return <div ref={ref} style={{ position: 'absolute', left: 0, top: 0, width: 752, height: 950, background: '#fff' }} />;
}
